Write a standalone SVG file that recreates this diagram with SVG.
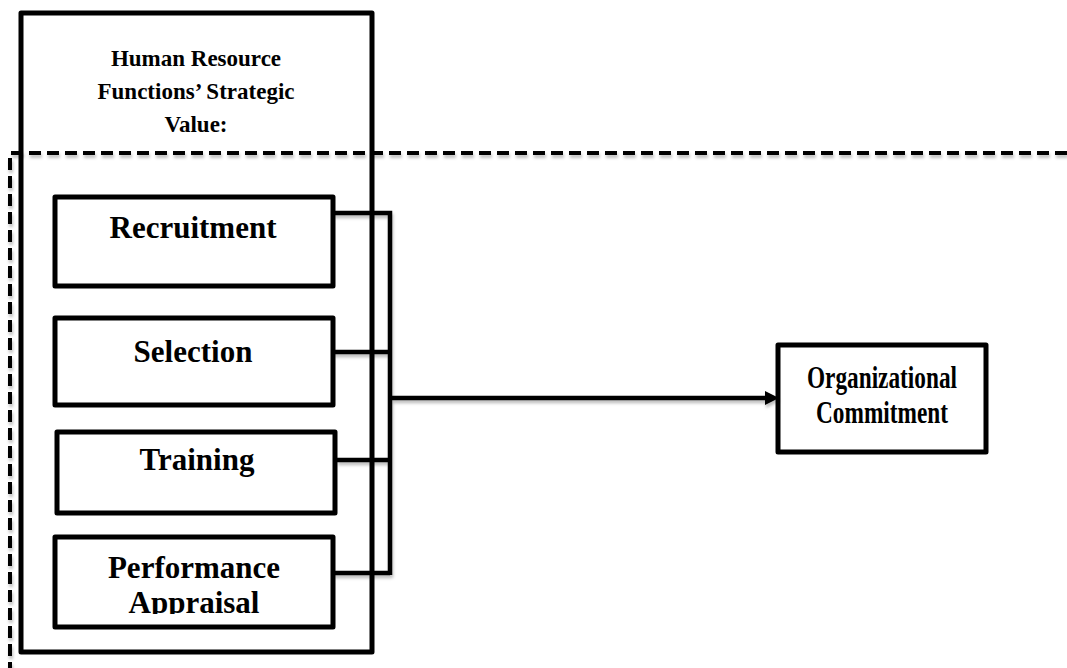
<svg xmlns="http://www.w3.org/2000/svg" width="1067" height="668" viewBox="0 0 1067 668">
<style>
.box{fill:#fff;stroke:#000;stroke-width:5;stroke-linejoin:round}
.ttl{font-family:"Liberation Serif","Times New Roman",serif;font-weight:bold;font-size:23px;fill:#000;text-anchor:middle}
.lbl{font-family:"Liberation Serif","Times New Roman",serif;font-weight:bold;font-size:31px;fill:#000;text-anchor:middle}
.dash{fill:none;stroke:#000;stroke-width:4;stroke-dasharray:12 6}
.con{fill:none;stroke:#000;stroke-width:4.5}
</style>
<defs>
<clipPath id="clipPA"><rect x="55" y="537" width="280" height="77"/></clipPath>
<filter id="sh" x="-5%" y="-5%" width="110%" height="120%">
<feDropShadow dx="1" dy="3" stdDeviation="1.5" flood-color="#000" flood-opacity="0.25"/>
</filter>
</defs>
<rect width="1067" height="668" fill="#fff"/>
<g id="outer">
<rect class="box" x="21" y="13" width="351" height="639"/>
<text class="ttl" x="196" y="66">Human Resource</text>
<text class="ttl" x="196" y="99">Functions’ Strategic</text>
<text class="ttl" x="196" y="132">Value:</text>
</g>
<g id="boundary">
<path class="dash" d="M1067 153 H10 V668" filter="url(#sh)"/>
</g>
<g id="recruitment">
<rect class="box" x="55" y="197" width="278" height="89"/>
<text class="lbl" x="193" y="238">Recruitment</text>
</g>
<g id="selection">
<rect class="box" x="55" y="318" width="278" height="87"/>
<text class="lbl" x="193" y="362">Selection</text>
</g>
<g id="training">
<rect class="box" x="57" y="432" width="278" height="81"/>
<text class="lbl" x="197" y="470">Training</text>
</g>
<g id="performance">
<rect class="box" x="55" y="537" width="278" height="90"/>
<g clip-path="url(#clipPA)">
<text class="lbl" x="194" y="578">Performance</text>
<text class="lbl" x="194" y="613">Appraisal</text>
</g>
</g>
<g id="organizational-commitment">
<rect class="box" x="778" y="345" width="208" height="107"/>
<text class="lbl" x="882" y="388" textLength="150" lengthAdjust="spacingAndGlyphs">Organizational</text>
<text class="lbl" x="882" y="423" textLength="132" lengthAdjust="spacingAndGlyphs">Commitment</text>
</g>
<g id="connectors" filter="url(#sh)">
<path class="con" d="M333 213 H390 V575 M333 352 H390 M337 460 H390 M333 573 H390"/>
<path class="con" d="M390 398 H768"/>
<polygon points="779,398 765,391 765,405" fill="#000"/>
</g>
</svg>
